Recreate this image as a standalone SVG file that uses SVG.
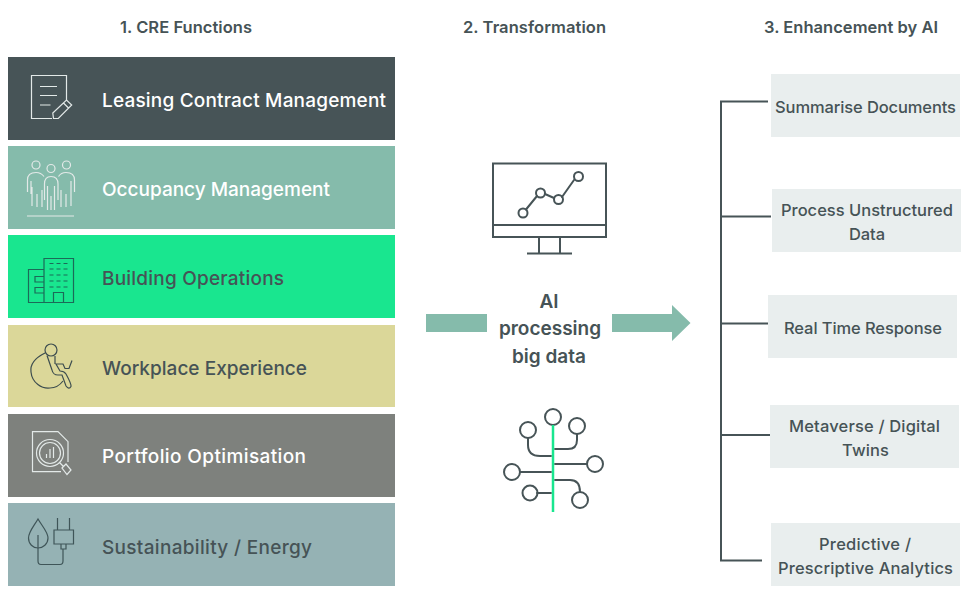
<svg xmlns="http://www.w3.org/2000/svg" width="968" height="595" viewBox="0 0 968 595">
<style>
text{font-family:Inter,"Noto Sans","Liberation Sans",sans-serif;font-weight:500;fill:#465356}
.h{font-size:16.500px;font-weight:600;text-anchor:middle}
.f{font-size:19px}
.w{fill:#fff}
.m{font-size:19px;font-weight:600;text-anchor:middle}
.e{font-size:16.500px;text-anchor:middle}
.b{fill:#e9eeee}
.il{fill:none;stroke:#e3e9e8;stroke-width:1.200}
.id{fill:none;stroke:#3d4d4f;stroke-width:1.200}
.ig{fill:none;stroke:#1c6a58;stroke-width:1.200}
.ic{fill:none;stroke:#475457;stroke-width:2;stroke-linecap:round}
.c{fill:none;stroke:#475457;stroke-width:2}
</style>
<rect width="968" height="595" fill="#fff"/>
<text class="h" x="186" y="33" textLength="132">1. CRE Functions</text>
<text class="h" x="534.500" y="33" textLength="143">2. Transformation</text>
<text class="h" x="851" y="33" textLength="174">3. Enhancement by AI</text>

<g id="leasing">
<rect x="8" y="57" width="387" height="83" fill="#475457"/>
<path class="il" d="M52 118.500H31.500V75.500H66.500V101M40 86.500H57M40 95.500H57M40 105H50.500"/>
<path class="il" d="M53.500 118.500L52.800 113L66.500 100L71.700 105L58.300 118.500ZM63.500 103L68.500 108"/>
<text class="f w" x="102" y="107" textLength="284">Leasing Contract Management</text>
</g>
<g id="occupancy">
<rect x="8" y="146" width="387" height="83" fill="#85bbab"/>
<g class="il" stroke-width="1">
<circle cx="36" cy="165" r="4"/><circle cx="51" cy="168.500" r="4"/><circle cx="66.500" cy="165" r="4"/>
<path d="M27.500 192V180Q27.500 172.500 36 172.500Q41 172.500 44 176.500M31 192V181M31 192V194M32 206V187M37 207V194M42 207V190"/>
<path d="M44.500 200V184Q44.500 176.500 51 176.500Q58 176.500 58 184V200M47.500 210V186M51 210V196M54.500 210V186"/>
<path d="M58.500 176.500Q61 172.500 66 172.500Q74.500 172.500 74.500 180V192M71 192V181M61 207V190M66 207V194M71 206V187M27 216H74"/>
</g>
<text class="f w" x="102" y="196" textLength="228">Occupancy Management</text>
</g>
<g id="building">
<rect x="8" y="235" width="387" height="83" fill="#19e68f"/>
<g class="ig">
<path d="M44 269.500V258.500H73.500V302.500H28.500V269.500H44V302.500M35 276.500H44V282H35ZM35 287.500H44V293H35ZM53.500 302V292.500H63.500V302"/>
<path d="M49.500 263.500H69.500M49.500 269H69.500M49.500 275H69.500M49.500 281H69.500M49.500 287H69.500" stroke-dasharray="4 3"/>
</g>
<text class="f" x="102" y="285" textLength="182">Building Operations</text>
</g>
<g id="workplace">
<rect x="8" y="325" width="387" height="82" fill="#dbd799"/>
<g class="id">
<circle cx="51" cy="350" r="6"/>
<path d="M45 353C35 358 30 365 31 372C32 383 42 389 50 388C56 388 60 385 63 381"/>
<path d="M47 355.500L52 370Q53 375 58 375H62L66 386Q69 390 71 386.500Q71.500 384 66 374Q64 371 60 371L56 364H63L65 368.500H69L72 360.500M55 356V364"/>
</g>
<text class="f" x="102" y="375" textLength="205">Workplace Experience</text>
</g>
<g id="portfolio">
<rect x="8" y="414" width="387" height="83" fill="#7e817d"/>
<g class="il">
<path d="M61 471.700H32.500V431.700H58L68 441.700V462"/>
<circle cx="50" cy="453" r="13.500"/><circle cx="50" cy="453" r="10.500"/>
<path d="M46.500 458V454M50 458V449M53.500 458V447M59.500 462.500L63.500 466.500M62 468L66 464L71 470L67 474.500Z"/>
</g>
<text class="f w" x="102" y="463" textLength="204">Portfolio Optimisation</text>
</g>
<g id="sustainability">
<rect x="8" y="503" width="387" height="83" fill="#95b2b4"/>
<g class="id" style="stroke:#3f5558">
<path d="M38 519C34 526 28.500 532 28.500 538C28.500 544 33 548 38 548C43 548 48 544 48 538C48 532 42 526 38 519Z"/>
<path d="M38 535V561Q38 564.500 41 564.500H60Q63 564.500 63 561V549M57.500 518V530M69.500 518V530M54 530H73.500V544H54ZM61 544H66V549H61Z"/>
</g>
<text class="f" x="102" y="554" textLength="210">Sustainability / Energy</text>
</g>

<g id="monitor" class="ic">
<path d="M493 163.500H606V237H493ZM493 225H606M539 237V254M560 237V254M527 253.500H572" style="stroke-linecap:butt"/>
<path d="M526 209.500L537 196M545 194L554 198M562 197L574 180"/>
<circle cx="523" cy="213" r="4.500"/><circle cx="540.500" cy="193" r="4.500"/><circle cx="558.500" cy="199.500" r="4.500"/><circle cx="578.500" cy="176.500" r="4.500"/>
</g>
<g id="ai-label">
<text class="m" x="549" y="308">AI</text>
<text class="m" x="550" y="335">processing</text>
<text class="m" x="549" y="363">big data</text>
</g>
<g id="network">
<g class="ic">
<circle cx="553" cy="417" r="8"/><circle cx="577" cy="426" r="8"/><circle cx="528" cy="430" r="8"/><circle cx="595" cy="464" r="8"/><circle cx="512" cy="472" r="8"/><circle cx="530" cy="493" r="7.500"/><circle cx="580" cy="500" r="8"/>
<path d="M577 434V440Q577 449 568 449H555M528 438V445Q528 456 540 456H551M555 464H587M520 472H551M537 493H551M555 480H570Q580 480 580 492"/>
</g>
<path d="M553 425V512" stroke="#19e68f" stroke-width="2.500" fill="none"/>
</g>
<g id="arrows">
<rect x="426" y="314" width="61" height="18" fill="#85bbab"/>
<path d="M612 314H672V305L690.500 323L672 341V332H612Z" fill="#85bbab"/>
</g>

<g id="e1"><rect class="b" x="771" y="74" width="189" height="63"/><text class="e" x="865.500" y="113" textLength="181">Summarise Documents</text></g>
<g id="e2"><rect class="b" x="772" y="189" width="189" height="63"/><text class="e" x="867" y="216" textLength="172">Process Unstructured</text><text class="e" x="867" y="240" textLength="36">Data</text></g>
<g id="e3"><rect class="b" x="768" y="295" width="189" height="63"/><text class="e" x="863" y="334" textLength="158">Real Time Response</text></g>
<g id="e4"><rect class="b" x="770" y="405" width="189" height="63"/><text class="e" x="864.500" y="432" textLength="151">Metaverse / Digital</text><text class="e" x="865.500" y="456" textLength="47">Twins</text></g>
<g id="e5"><rect class="b" x="771" y="523" width="189" height="63"/><text class="e" x="865" y="550" textLength="92">Predictive /</text><text class="e" x="865.500" y="574" textLength="175">Prescriptive Analytics</text></g>

<g id="connectors" class="c">
<path d="M768 101.500H721V560.500H762"/>
<path d="M721 216.500H771M721 323.500H768M721 435H770"/>
</g>
</svg>
